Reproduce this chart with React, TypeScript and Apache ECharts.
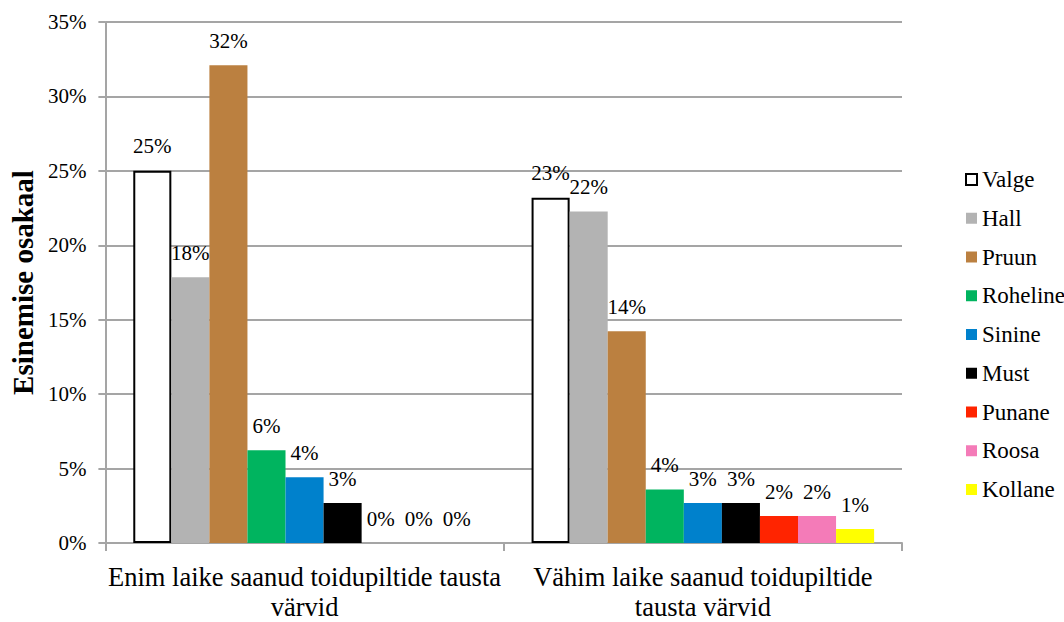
import React, { useEffect, useRef } from "react";
import * as echarts from "echarts";

const categories = [
  "Enim laike saanud toidupiltide tausta\nvärvid",
  "Vähim laike saanud toidupiltide\ntausta värvid",
];
const seriesNames = ["Valge", "Hall", "Pruun", "Roheline", "Sinine", "Must", "Punane", "Roosa", "Kollane"];
// values in percent, per colour: [Enim, Vähim]
const valge = [25.0, 23.2];
const hall = [17.85, 22.27];
const pruun = [32.1, 14.23];
const roheline = [6.23, 3.6];
const sinine = [4.42, 2.68];
const must = [2.68, 2.68];
const punane = [0, 1.81];
const roosa = [0, 1.81];
const kollane = [0, 0.94];
const seriesValues = [valge, hall, pruun, roheline, sinine, must, punane, roosa, kollane];
const yTicks = { min: 0, max: 35, interval: 5 };

const colors = ["#ffffff", "#b3b3b3", "#bb8040", "#00b45f", "#0081cc", "#000000", "#ff2400", "#f47bb8", "#ffff00"];
const FONT = "Liberation Serif";

export default function App() {
  const ref = useRef<HTMLDivElement>(null);
  useEffect(() => {
    if (!ref.current) return;
    const chart = echarts.init(ref.current, undefined, { renderer: "svg" });
    chart.setOption({
      animation: false,
      backgroundColor: "#ffffff",
      textStyle: { fontFamily: FONT },
      grid: { left: 105, right: 162, top: 22, bottom: 78, containLabel: false },
      legend: {
        orient: "vertical",
        left: 960,
        top: 163,
        itemWidth: 11,
        itemHeight: 11,
        itemGap: 15.75,
        icon: "rect",
        data: seriesNames,
        textStyle: { fontFamily: FONT, fontSize: 23, color: "#000", lineHeight: 23 },
      },
      xAxis: {
        type: "category",
        data: categories,
        axisLine: { show: true, lineStyle: { color: "#a5a5a5", width: 2 } },
        axisTick: { show: true, length: 8, lineStyle: { color: "#a5a5a5", width: 2 } },
        axisLabel: {
          interval: 0,
          margin: 19,
          fontFamily: FONT,
          fontSize: 26.5,
          lineHeight: 30,
          color: "#000",
        },
        splitLine: { show: false },
      },
      yAxis: {
        type: "value",
        min: yTicks.min,
        max: yTicks.max,
        interval: yTicks.interval,
        name: "Esinemise osakaal",
        nameLocation: "middle",
        nameRotate: 90,
        nameGap: 65,
        nameTextStyle: { fontFamily: FONT, fontSize: 29, fontWeight: "bold", color: "#000" },
        axisLine: { show: true, lineStyle: { color: "#a5a5a5", width: 2 } },
        axisTick: { show: true, length: 7, lineStyle: { color: "#a5a5a5", width: 2 } },
        axisLabel: {
          margin: 19,
          fontFamily: FONT,
          fontSize: 21,
          color: "#000",
          formatter: (v: number) => `${v}%`,
        },
        splitLine: { show: true, lineStyle: { color: "#a5a5a5", width: 2 } },
      },
      series: seriesNames.map((name, i) => ({
        name,
        type: "bar",
        data: seriesValues[i],
        barGap: "0%",
        barCategoryGap: "14%",
        itemStyle:
          i === 0
            ? { color: colors[i], borderColor: "#000", borderWidth: 2 }
            : { color: colors[i] },
        label: {
          show: true,
          position: "top",
          distance: 14,
          fontFamily: FONT,
          fontSize: 21,
          color: "#000",
          formatter: (p: any) => `${Math.round(p.value)}%`,
        },
      })),
    });
    return () => chart.dispose();
  }, []);
  return (
    <div
      ref={ref}
      style={{ position: "fixed", left: 0, top: 0, width: 1064, height: 622 }}
    />
  );
}
